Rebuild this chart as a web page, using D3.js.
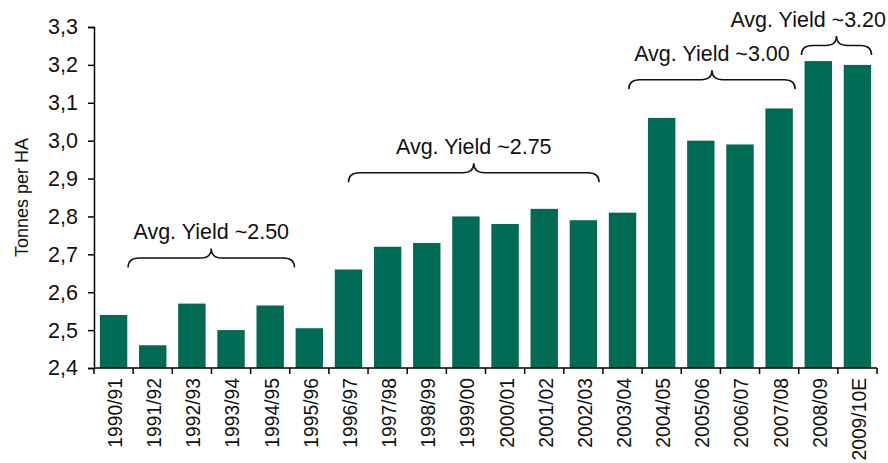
<!DOCTYPE html>
<html>
<head>
<meta charset="utf-8">
<script src="https://cdn.jsdelivr.net/npm/d3@7"></script>
<style>
  body { margin: 0; background: #fff; }
  text { font-family: "Liberation Sans", Arial, sans-serif; fill: #111; }
</style>
</head>
<body>
<div class="chart"></div>
<script>
// data
var seasons = ["1990/91", "1991/92", "1992/93", "1993/94", "1994/95", "1995/96",
    "1996/97", "1997/98", "1998/99", "1999/00", "2000/01", "2001/02", "2002/03",
    "2003/04", "2004/05", "2005/06", "2006/07", "2007/08", "2008/09", "2009/10E"];
var yields = [2.54, 2.46, 2.57, 2.50, 2.565, 2.505, 2.66, 2.72, 2.73, 2.80,
    2.78, 2.82, 2.79, 2.81, 3.06, 3.00, 2.99, 3.085, 3.21, 3.20];
var yTicks = [2.4, 2.5, 2.6, 2.7, 2.8, 2.9, 3.0, 3.1, 3.2, 3.3];

// brace annotations: label, start/end in bar-index units, level in tonnes
var braceLabels = ["Avg. Yield ~2.50", "Avg. Yield ~2.75", "Avg. Yield ~3.00", "Avg. Yield ~3.20"];
var braceFrom = [0.37, 6.0, 13.16, 17.57];
var braceTo = [4.62, 12.4, 17.41, 19.36];
var braceLevel = [2.69, 2.915, 3.161, 3.251];

var W = 888, H = 463;
var margin = {top: 27, right: 11, bottom: 95, left: 94};

var svg = d3.select(".chart").append("svg")
    .attr("width", W)
    .attr("height", H);

var x = d3.scaleBand()
    .domain(seasons)
    .range([margin.left, W - margin.right])
    .paddingInner(0.3)
    .paddingOuter(0.15);

var y = d3.scaleLinear()
    .domain([2.4, 3.3])
    .range([H - margin.bottom, margin.top]);

var step = x.step();
// centre of bar i (fractional allowed)
function xIdx(i) {
    return margin.left + (i + 0.5) * step;
}

// bars
svg.selectAll(".bar")
    .data(yields)
    .enter().append("rect")
    .attr("class", "bar")
    .attr("x", function(d, i){ return x(seasons[i]); })
    .attr("y", function(d){ return y(d); })
    .attr("width", x.bandwidth())
    .attr("height", function(d){ return y(2.4) - y(d); })
    .attr("fill", "#006B54");

// y axis
var yAxis = d3.axisLeft(y)
    .tickValues(yTicks)
    .tickSize(6)
    .tickPadding(10)
    .tickFormat(function(d){ return d3.format(".1f")(d).replace(".", ","); });

var gy = svg.append("g")
    .attr("transform", "translate(" + margin.left + ",0)")
    .call(yAxis);
gy.select(".domain").attr("stroke", "#000").attr("stroke-width", 1.5);
gy.selectAll(".tick line").attr("stroke", "#000").attr("stroke-width", 1.5);
gy.selectAll("text").style("font-size", "21.5px").attr("fill", "#111");

// x axis: labels at bar centres, tick marks between bars
var xAxis = d3.axisBottom(x).tickSize(0).tickPadding(0);
var gx = svg.append("g")
    .attr("transform", "translate(0," + y(2.4) + ")")
    .call(xAxis);
gx.select(".domain").remove();
gx.selectAll("text")
    .style("font-size", "19.3px")
    .attr("fill", "#111")
    .attr("text-anchor", "end")
    .attr("transform", "rotate(-90)")
    .attr("x", -10)
    .attr("y", 1.5)
    .attr("dy", "0.36em");

svg.append("line")
    .attr("x1", margin.left)
    .attr("x2", W - margin.right)
    .attr("y1", y(2.4))
    .attr("y2", y(2.4))
    .attr("stroke", "#000")
    .attr("stroke-width", 1.5);

svg.selectAll(".xtick")
    .data(d3.range(seasons.length + 1))
    .enter().append("line")
    .attr("class", "xtick")
    .attr("x1", function(i){ return margin.left + i * step; })
    .attr("x2", function(i){ return margin.left + i * step; })
    .attr("y1", y(2.4))
    .attr("y2", y(2.4) + 6)
    .attr("stroke", "#000")
    .attr("stroke-width", 1.5);

// y axis title
svg.append("text")
    .attr("transform", "translate(27.5," + ((margin.top + y(2.4)) / 2) + ") rotate(-90)")
    .attr("text-anchor", "middle")
    .style("font-size", "18px")
    .text("Tonnes per HA");

// braces
function bracePath(x1, x2, yh) {
    var xm = (x1 + x2) / 2, r = 11, h = 9.5;
    return "M" + x1 + "," + (yh + h) +
        " Q" + x1 + "," + yh + " " + (x1 + r) + "," + yh +
        " L" + (xm - r) + "," + yh +
        " Q" + xm + "," + yh + " " + xm + "," + (yh - h) +
        " Q" + xm + "," + yh + " " + (xm + r) + "," + yh +
        " L" + (x2 - r) + "," + yh +
        " Q" + x2 + "," + yh + " " + x2 + "," + (yh + h);
}

braceLabels.forEach(function(lab, k){
    var x1 = xIdx(braceFrom[k]), x2 = xIdx(braceTo[k]);
    var yh = y(braceLevel[k]);
    svg.append("path")
        .attr("d", bracePath(x1, x2, yh))
        .attr("fill", "none")
        .attr("stroke", "#111")
        .attr("stroke-width", 1.5);

    var t = svg.append("text")
        .attr("x", (x1 + x2) / 2)
        .attr("y", yh - 19)
        .attr("text-anchor", "middle")
        .style("font-size", "21.5px")
        .text(lab);
    // keep the label inside the picture
    var len = t.node().getComputedTextLength();
    var right = (x1 + x2) / 2 + len / 2;
    if (right > W - 2) t.attr("x", (x1 + x2) / 2 - (right - (W - 2)));
});
</script>
</body>
</html>
